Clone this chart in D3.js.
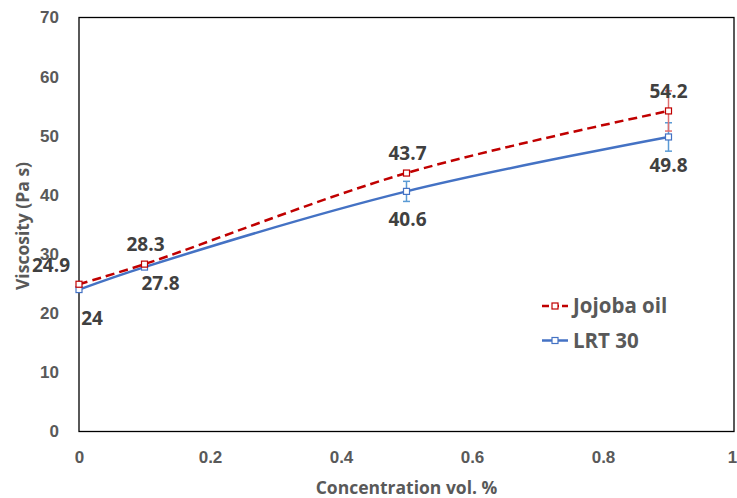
<!DOCTYPE html>
<html><head><meta charset="utf-8">
<script src="https://cdn.jsdelivr.net/npm/d3@7"></script>
<style>
body{margin:0;background:#fff;}
svg{display:block;font-family:"Open Sans","Lato",sans-serif;}
</style></head>
<body><svg id="c" width="737" height="498"></svg>
<script>
const concentrations = [0, 0.1, 0.5, 0.9];
const jojobaValues = [24.9, 28.3, 43.7, 54.2];
const jojobaErrors = [0, 0, 0.3, 3.4];
const lrtValues = [24, 27.8, 40.6, 49.8];
const lrtErrors = [0, 0, 1.7, 2.4];
const xTicks = [0, 0.2, 0.4, 0.6, 0.8, 1];
const yTicks = [0, 10, 20, 30, 40, 50, 60, 70];
const seriesNames = ["Jojoba oil", "LRT 30"];

const svg = d3.select("#c");
const L = 79, R = 734, T = 17.5, B = 431.5;
const x = d3.scaleLinear().domain([0, 1]).range([L, R]);
const y = d3.scaleLinear().domain([0, 70]).range([B, T]);

// axes tick labels
const xAxis = d3.axisBottom(x).tickValues(xTicks).tickSize(0).tickPadding(19).tickFormat(d3.format("~g"));
const yAxis = d3.axisLeft(y).tickValues(yTicks).tickSize(0).tickPadding(20).tickFormat(d3.format("~g"));
const gx = svg.append("g").attr("transform", `translate(0,${B})`).call(xAxis);
const gy = svg.append("g").attr("transform", `translate(${L},0)`).call(yAxis);
[gx, gy].forEach(g => {
  g.select(".domain").remove();
  g.selectAll("text").attr("fill", "#595959").attr("font-size", 17).attr("font-weight", 700);
});
gx.selectAll(".tick").filter(d => d === 1).select("text").attr("dx", -2);

// plot border
svg.append("rect").attr("x", L).attr("y", T).attr("width", R - L).attr("height", B - T)
  .attr("fill", "none").attr("stroke", "#000").attr("stroke-width", 1.3);

// axis titles
svg.append("text").attr("x", (L + R) / 2).attr("y", 494).attr("text-anchor", "middle")
  .attr("fill", "#595959").attr("font-size", 17.5).attr("font-weight", 700).text("Concentration vol. %");
svg.append("text").attr("transform", `translate(29,${226}) rotate(-90)`).attr("text-anchor", "middle")
  .attr("fill", "#595959").attr("font-size", 17.5).attr("font-weight", 700).text("Viscosity (Pa s)");

const series = [
  {name: seriesNames[0], vals: jojobaValues, errs: jojobaErrors, color: "#C00000", errColor: "#E07070", dash: "9,5"},
  {name: seriesNames[1], vals: lrtValues, errs: lrtErrors, color: "#4472C4", errColor: "#5B9BD5", dash: null}
];

const line = d3.line().x(d => x(d[0])).y(d => y(d[1])).curve(d3.curveCatmullRom.alpha(0.5));

series.slice().reverse().forEach(s => {
  const pts = concentrations.map((c, i) => [c, s.vals[i]]);
  const eg = svg.append("g");
  pts.forEach((p, i) => {
    const e = s.errs[i];
    if (!e) return;
    const cx = x(p[0]);
    eg.append("line").attr("x1", cx).attr("x2", cx).attr("y1", y(p[1] - e)).attr("y2", y(p[1] + e))
      .attr("stroke", s.errColor).attr("stroke-width", 1.5);
    [p[1] - e, p[1] + e].forEach(v => eg.append("line").attr("x1", cx - 3.5).attr("x2", cx + 3.5)
      .attr("y1", y(v)).attr("y2", y(v)).attr("stroke", s.errColor).attr("stroke-width", 1.5));
  });
  svg.append("path").datum(pts).attr("d", line).attr("fill", "none")
    .attr("stroke", s.color).attr("stroke-width", 2.5).attr("stroke-dasharray", s.dash);
  svg.append("g").selectAll("rect").data(pts).join("rect")
    .attr("x", d => x(d[0]) - 3).attr("y", d => y(d[1]) - 3).attr("width", 6).attr("height", 6)
    .attr("fill", "#fff").attr("stroke", s.color).attr("stroke-width", 1.2);
});

// data labels
const lblStyle = sel => sel.attr("fill", "#404040").attr("font-size", 19).attr("font-weight", 700).attr("text-anchor", "middle");
const jojoOffsets = [[-28, -12], [1, -13], [1, -13], [0, -13]];
const lrtOffsets = [[13, 35], [16, 23], [1, 35], [0, 35]];
concentrations.forEach((c, i) => {
  svg.append("text").call(lblStyle).attr("x", x(c) + jojoOffsets[i][0]).attr("y", y(jojobaValues[i]) + jojoOffsets[i][1])
    .text(d3.format("~g")(jojobaValues[i]));
  svg.append("text").call(lblStyle).attr("x", x(c) + lrtOffsets[i][0]).attr("y", y(lrtValues[i]) + lrtOffsets[i][1])
    .text(d3.format("~g")(lrtValues[i]));
});

// legend
series.forEach((s, i) => {
  const ly = 306 + i * 34.5;
  const g = svg.append("g");
  g.append("line").attr("x1", 542).attr("x2", 568).attr("y1", ly).attr("y2", ly)
    .attr("stroke", s.color).attr("stroke-width", 2.5).attr("stroke-dasharray", s.dash ? "7,3" : null);
  g.append("rect").attr("x", 552).attr("y", ly - 3).attr("width", 6).attr("height", 6)
    .attr("fill", "#fff").attr("stroke", s.color).attr("stroke-width", 1.2);
  g.append("text").attr("x", 573).attr("y", ly + 7).attr("fill", "#595959").attr("font-size", 20.5)
    .attr("font-weight", 700).text(s.name);
});
</script></body></html>
